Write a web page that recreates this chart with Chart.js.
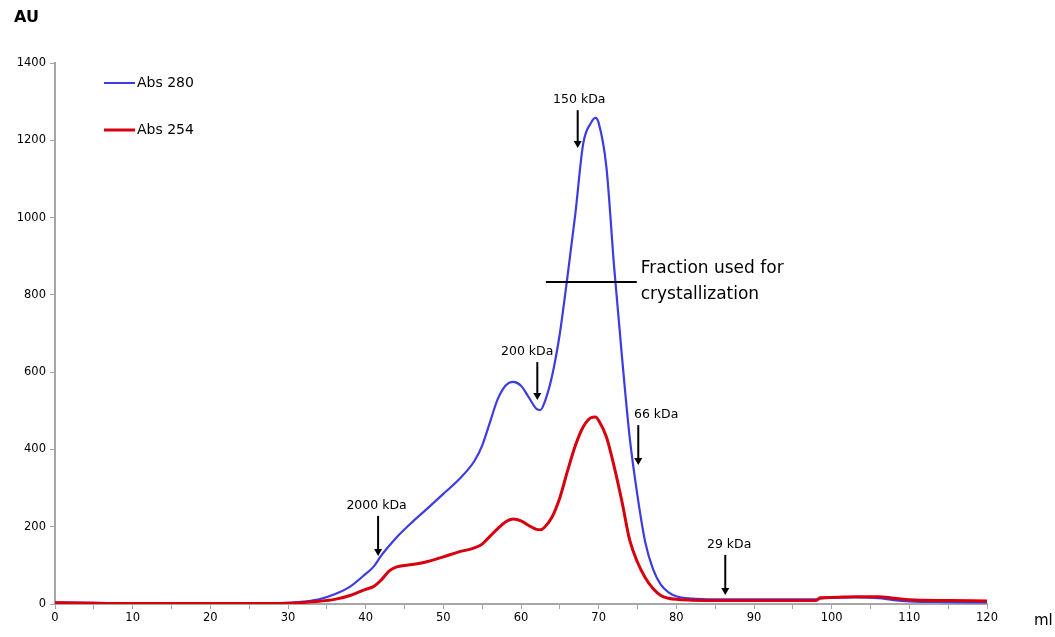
<!DOCTYPE html>
<html><head><meta charset="utf-8">
<script src="https://cdn.jsdelivr.net/npm/chart.js@4.4.1/dist/chart.umd.min.js"></script>
<style>html,body{margin:0;padding:0;background:#fff}#w{width:1055px;height:637px}</style>
</head><body><div id="w"><canvas id="c" width="1055" height="637"></canvas></div>
<script>
const volumeMl = [0,5,10,15,20,25,30,32,34,36,38,40,41,42,43,44,46,48,50,52,54,55,56,57,58,59,60,61,62,62.5,63,64,65,66,67,68,69,69.6,70,71,72,73,74,75,76,77,78,79,80,82,85,90,95,98,98.5,100,103,106,108,110,115,120];
const abs280 = [4,3,2,2,2,2,3,6,12,25,45,78,96,125,150,173,212,248,285,322,370,410,470,530,565,575,565,535,505,502,520,590,700,850,1010,1190,1245,1258,1245,1130,870,640,430,280,160,90,50,30,20,14,12,12,12,12,14,16,17,15,10,7,5,4];
const abs254 = [3,2,1,1,1,1,2,4,7,12,22,38,45,62,85,96,102,110,122,135,145,155,175,195,212,220,215,203,193,192,198,225,275,345,410,458,482,484,475,432,355,265,165,108,68,40,22,15,12,10,9,9,9,9,16,17,19,19,15,11,9,8];
const seriesNames = ['Abs 280','Abs 254'];
const xTicks = [0,10,20,30,40,50,60,70,80,90,100,110,120];
const yTicks = [0,200,400,600,800,1000,1200,1400];
// markers: label, arrow x (ml), label centre (ml), arrow top value, arrow tip value
const markerLabels = ['150 kDa','200 kDa','66 kDa','2000 kDa','29 kDa'];
const markerMl = [67.3,62.1,75.1,41.6,86.3];
const markerLabelMl = [67.5,60.8,77.4,41.4,86.8];
const markerTop = [1278,626,463,228,127];
const markerTip = [1180,528,360,124,23];
const fractionRange = [63.2,74.9];
const fractionLevel = 833;
const fractionText = ['Fraction used for','crystallization'];

const FONT = '"DejaVu Sans", sans-serif';
const pts = a => volumeMl.map((x,i)=>({x, y:a[i]}));

const overlay = {
  id:'overlay',
  afterDraw(chart){
    const {ctx, scales:{x,y}} = chart;
    ctx.save();
    ctx.fillStyle='#000'; ctx.strokeStyle='#000';
    ctx.font='bold 16px '+FONT; ctx.textAlign='left'; ctx.textBaseline='middle';
    ctx.fillText('AU', 14, 18);
    ctx.font='15px '+FONT;
    ctx.fillText('ml', 1034, 621);
    const cols=['#3c3ce0','#d8000f'], lw=[2,3], ly=[83,130];
    ctx.font='14px '+FONT;
    for(let i=0;i<2;i++){
      ctx.strokeStyle=cols[i]; ctx.lineWidth=lw[i];
      ctx.beginPath(); ctx.moveTo(104,ly[i]); ctx.lineTo(135,ly[i]); ctx.stroke();
      ctx.fillStyle='#000'; ctx.fillText(seriesNames[i],137,ly[i]);
    }
    ctx.strokeStyle='#000'; ctx.lineWidth=2;
    const fy = y.getPixelForValue(fractionLevel);
    ctx.beginPath(); ctx.moveTo(x.getPixelForValue(fractionRange[0]),fy); ctx.lineTo(x.getPixelForValue(fractionRange[1]),fy); ctx.stroke();
    ctx.font='17px '+FONT; ctx.textAlign='left';
    ctx.fillText(fractionText[0], x.getPixelForValue(fractionRange[1])+4, fy-14);
    ctx.fillText(fractionText[1], x.getPixelForValue(fractionRange[1])+4, fy+12);
    ctx.font='12.5px '+FONT; ctx.textAlign='center';
    markerLabels.forEach((lab,i)=>{
      const px = x.getPixelForValue(markerMl[i]);
      const top = y.getPixelForValue(markerTop[i]);
      const tip = y.getPixelForValue(markerTip[i]);
      ctx.fillText(lab, x.getPixelForValue(markerLabelMl[i]), top-10);
      ctx.lineWidth=2;
      ctx.beginPath(); ctx.moveTo(px,top); ctx.lineTo(px,tip-6); ctx.stroke();
      ctx.beginPath(); ctx.moveTo(px-4,tip-7); ctx.lineTo(px+4,tip-7); ctx.lineTo(px,tip); ctx.closePath(); ctx.fill();
    });
    ctx.restore();
  }
};

new Chart(document.getElementById('c'), {
  type:'line',
  data:{datasets:[
    {label:seriesNames[0], data:pts(abs280), borderColor:'#3c3ce0', borderWidth:2.2, pointRadius:0, cubicInterpolationMode:'monotone', order:2},
    {label:seriesNames[1], data:pts(abs254), borderColor:'#d8000f', borderWidth:3, pointRadius:0, cubicInterpolationMode:'monotone', order:1}
  ]},
  options:{
    responsive:false, animation:false,
    layout:{padding:{left:0,top:63,right:68,bottom:0}},
    plugins:{legend:{display:false}, tooltip:{enabled:false}},
    scales:{
      x:{type:'linear', min:0, max:120,
        afterFit(s){ s.height=33; },
        afterBuildTicks(s){ s.ticks = []; for(let v=0; v<=120; v+=5) s.ticks.push({value:v}); },
        ticks:{autoSkip:false, maxRotation:0, color:'#000', font:{family:FONT,size:11.5}, padding:2,
          callback:v=> xTicks.includes(v)? String(v):''},
        grid:{drawOnChartArea:false, tickLength:5, color:'#a6a6a6', lineWidth:1},
        border:{color:'#a6a6a6', width:2}},
      y:{min:0, max:1400,
        afterFit(s){ s.width=55; },
        afterBuildTicks(s){ s.ticks = yTicks.map(v=>({value:v})); },
        ticks:{color:'#000', font:{family:FONT,size:11.5}, padding:4, callback:v=>String(v)},
        grid:{drawOnChartArea:false, tickLength:5, color:'#a6a6a6'},
        border:{color:'#a6a6a6', width:2}}
    }
  },
  plugins:[overlay]
});
</script></body></html>
